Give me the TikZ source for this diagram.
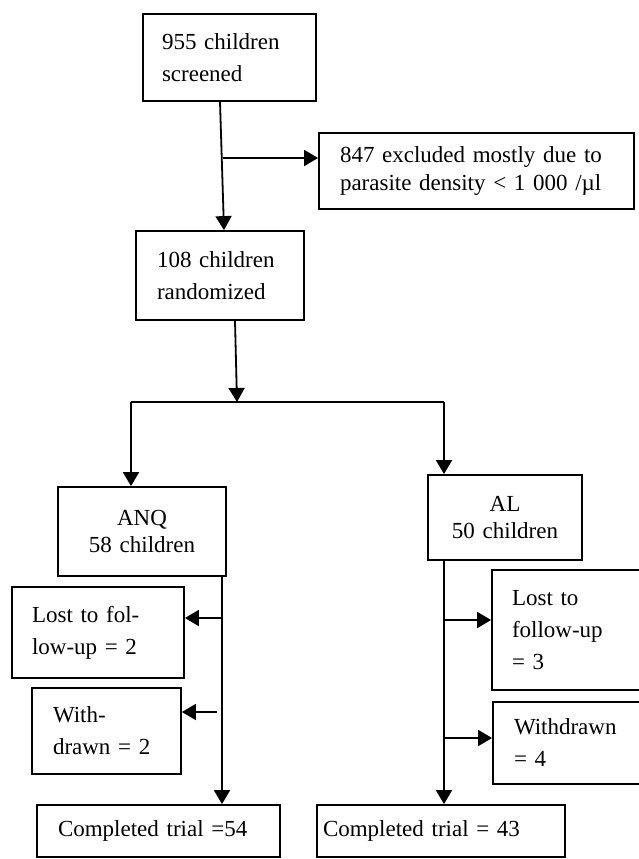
\documentclass[tikz,border=0pt]{standalone}
\usepackage{fontspec}
\setmainfont{Liberation Serif}
\usetikzlibrary{arrows.meta}

\tikzset{
  box/.style={draw, line width=1.8pt, align=left, inner ysep=0pt, font=\fontsize{23}{32}\selectfont},
  boxc/.style={box, align=center, inner xsep=10pt},
  tight/.style={font=\fontsize{23}{27.5}\selectfont},
  arr/.style={line width=1.8pt, -{Triangle[length=14pt,width=16pt]}},
  link/.style={line width=1.8pt},
}

\begin{document}
\begin{tikzpicture}[x=1pt,y=-1pt]
\useasboundingbox (0,0) rectangle (639,859);
\clip (0,0) rectangle (639,859);

% Screening and randomisation
\node[box, text width=135pt, inner xsep=19pt, minimum height=87pt] (screen) at (229.5,57.5) {955 children\\screened};
\node[box, tight, text width=273pt, inner xsep=21pt, minimum height=76pt] (excl) at (476.5,171) {847 excluded mostly due to\\parasite density < 1 000 /µl};
\node[box, text width=126pt, inner xsep=21pt, minimum height=89pt] (rand) at (220,275.5) {108 children\\randomized};

% The two arms
\node[boxc, tight, text width=148pt, minimum height=89pt] (anq) at (142,531.5) {ANQ\\58 children};
\node[boxc, tight, text width=134pt, minimum height=85pt] (al) at (505,517.5) {AL\\50 children};

% Left arm
\node[box, text width=132pt, inner xsep=20pt, minimum height=91pt] (lost1) at (98,632.5) {Lost to fol-\\low-up = 2};
\node[box, text width=107pt, inner xsep=21pt, minimum height=86pt] (with1) at (106.5,731) {With-\\drawn = 2};
\node[box, text width=201pt, inner xsep=21pt, minimum height=52pt] (done1) at (158.5,831) {Completed trial =54};

% Right arm
\node[box, text width=118pt, inner xsep=20pt, minimum height=120pt] (lost2) at (571,630) {Lost to\\follow-up\\= 3};
\node[box, text width=115pt, inner xsep=21pt, minimum height=82pt] (with2) at (571.5,743) {Withdrawn\\= 4};
\node[box, text width=236pt, inner xsep=6pt, minimum height=52pt] (done2) at (441,831) {Completed trial = 43};

% Connectors
\draw[arr] ([xshift=-9.5pt]screen.south) -- ([xshift=4pt]rand.north);
\coordinate (split) at (223,158);
\draw[arr] (split) -- (split -| excl.west);

\coordinate (fork) at (237,402);
\coordinate (forkL) at (131,402);
\coordinate (forkR) at (444,402);
\draw[arr] ([xshift=15pt]rand.south) -- (fork);
\draw[link] (forkL) -- (forkR);
\draw[arr] (forkL) -- (forkL |- anq.north);
\draw[arr] (forkR) -- (forkR |- al.north);

\draw[arr] ([xshift=80pt]anq.south) -- ([xshift=80pt]anq.south |- done1.north);
\coordinate (l1) at (222,618);
\coordinate (w1) at (217,712);
\draw[arr] (l1) -- (l1 -| lost1.east);
\draw[arr] (w1) -- (w1 -| with1.east);

\draw[arr] ([xshift=-61pt]al.south) -- ([xshift=-61pt]al.south |- done2.north);
\coordinate (l2) at (444,620);
\coordinate (w2) at (444,738);
\draw[arr] (l2) -- (l2 -| lost2.west);
\draw[arr] (w2) -- (w2 -| with2.west);
\end{tikzpicture}
\end{document}
